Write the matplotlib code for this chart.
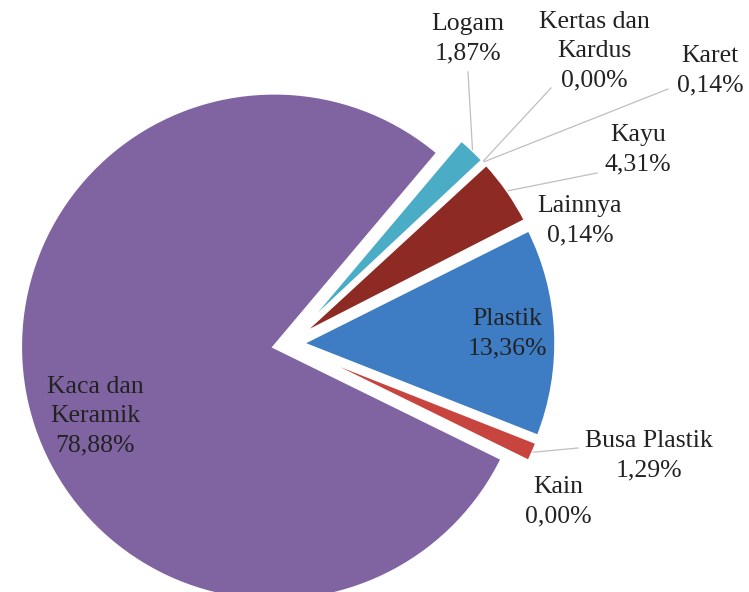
import numpy as np
import matplotlib.pyplot as plt

# Komposisi sampah (persen), urutan berlawanan arah jarum jam mulai dari Plastik
categories = ["Plastik", "Lainnya", "Kayu", "Karet", "Kertas dan\nKardus",
              "Logam", "Kaca dan\nKeramik", "Kain", "Busa Plastik"]
values = [13.36, 0.14, 4.31, 0.14, 0.00, 1.87, 78.88, 0.00, 1.29]
value_labels = ["13,36%", "0,14%", "4,31%", "0,14%", "0,00%",
                "1,87%", "78,88%", "0,00%", "1,29%"]
colors = ["#3E7CC4", "#F79646", "#8E2A24", "#9BBB59", "#2C4D75",
          "#4BACC6", "#8064A2", "#F2DCDB", "#C8453F"]

# layout (pixel positions in the 749x592 canvas)
W, H = 749, 592
CX, CY, R = 288, 344, 254
EXPLODE = 0.055
START = -21.5

# label centre positions (px) and leader end point (px, None = no line)
label_pos = {
    "Plastik": (507, 334),
    "Lainnya": (580, 221),
    "Kayu": (638, 150),
    "Karet": (710, 71),
    "Kertas dan\nKardus": (594, 51),
    "Logam": (468, 39),
    "Kaca dan\nKeramik": (95, 416),
    "Kain": (558, 502),
    "Busa Plastik": (649, 456),
}
leader_end = {
    "Kayu": (597, 173),
    "Karet": (668, 89),
    "Kertas dan\nKardus": (551, 88),
    "Logam": (468, 72),
    "Busa Plastik": (578, 448),
}


def px(x, y):
    return (x - CX) / R, (CY - y) / R


fig = plt.figure(figsize=(W / 100, H / 100), dpi=100)
ax = fig.add_axes([0, 0, 1, 1])

wedges, _ = ax.pie(
    values,
    colors=colors,
    startangle=START,
    counterclock=True,
    explode=[EXPLODE] * len(values),
    radius=1.0,
    wedgeprops=dict(edgecolor="white", linewidth=2.5),
)

ax.set_xlim(px(0, 0)[0], px(W, 0)[0])
ax.set_ylim(px(0, H)[1], px(0, 0)[1])
ax.set_aspect("equal")
ax.axis("off")

for w, cat, lab in zip(wedges, categories, value_labels):
    x, y = px(*label_pos[cat])
    ax.text(x, y, f"{cat}\n{lab}", ha="center", va="center",
            fontsize=18.5, family="Liberation Serif", color="#222222",
            linespacing=1.42)
    if cat in leader_end:
        mid = np.deg2rad((w.theta1 + w.theta2) / 2)
        r0 = 1.0 + EXPLODE
        x0, y0 = r0 * np.cos(mid), r0 * np.sin(mid)
        x1, y1 = px(*leader_end[cat])
        ax.plot([x0, x1], [y0, y1], color="#BFBFBF", linewidth=0.9)

fig.savefig("out.png", dpi=100)
